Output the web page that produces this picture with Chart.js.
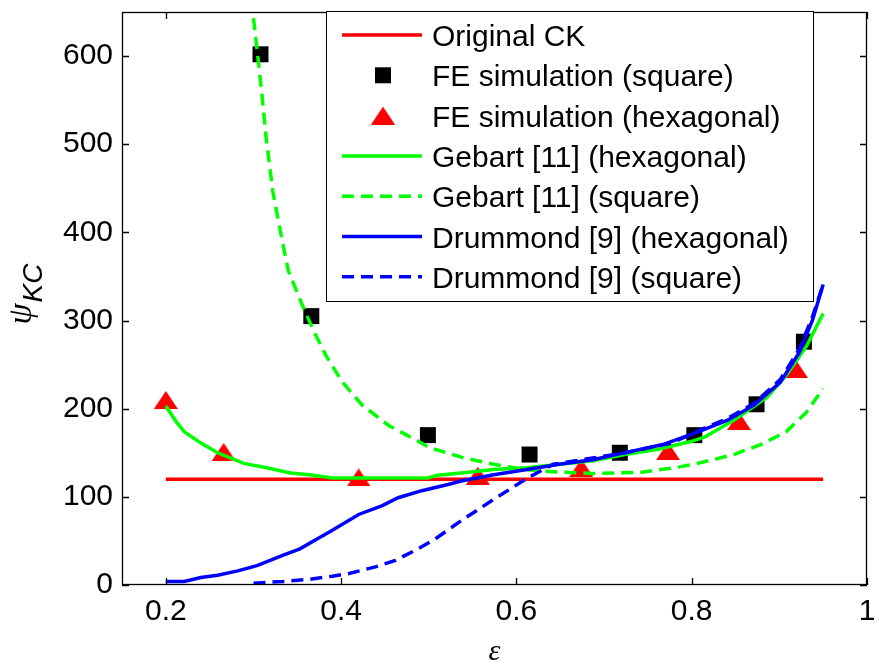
<!DOCTYPE html>
<html><head><meta charset="utf-8">
<script src="https://cdn.jsdelivr.net/npm/chart.js@4/dist/chart.umd.min.js"></script>
<style>html,body{margin:0;padding:0;background:#fff;}</style>
</head><body>
<canvas id="c" width="879" height="666"></canvas>
<script>
// ---- data ----
const X_TICKS = [0.2, 0.4, 0.6, 0.8, 1];
const Y_TICKS = [0, 100, 200, 300, 400, 500, 600];
const X_LABEL = 'ε';
const Y_LABEL_MAIN = 'ψ';
const Y_LABEL_SUB = 'KC';

const CK_X = [0.2, 0.95];
const CK_Y = [120, 120];

const FE_SQ_X = [0.308, 0.366, 0.499, 0.615, 0.718, 0.803, 0.874, 0.928];
const FE_SQ_Y = [602, 305, 170, 148, 150, 170, 205, 276];

const FE_HEX_X = [0.2, 0.266, 0.42, 0.556, 0.674, 0.773, 0.854, 0.919];
const FE_HEX_Y = [210, 151, 122, 124, 133, 152, 186, 245];

const GEB_HEX_X = [0.2, 0.212, 0.221, 0.24, 0.259, 0.289, 0.315, 0.342, 0.364, 0.39, 0.447, 0.499, 0.51, 0.537, 0.574, 0.612, 0.649, 0.687, 0.724, 0.762, 0.8, 0.815, 0.848, 0.886, 0.908, 0.931, 0.95];
const GEB_HEX_Y = [203, 185, 174, 161, 150, 138, 133, 127, 125, 121.5, 121.5, 121.5, 124.5, 127, 131, 133, 137, 141, 148, 154, 163, 168, 187, 213, 238, 271, 308];

const GEB_SQ_X = [0.3, 0.3047, 0.3097, 0.3145, 0.322, 0.3284, 0.3396, 0.3547, 0.3678, 0.3829, 0.4016, 0.4241, 0.4542, 0.488, 0.5, 0.537, 0.574, 0.608, 0.649, 0.687, 0.743, 0.78, 0.803, 0.848, 0.878, 0.908, 0.931, 0.95];
const GEB_SQ_Y = [643, 602, 556, 507, 447, 413, 357, 320, 290, 260, 230, 204, 181, 163, 156, 145, 137, 131, 128, 126.5, 128, 133, 137, 148, 159, 174, 196, 223];

const DRU_HEX_X = [0.2, 0.221, 0.24, 0.259, 0.282, 0.304, 0.334, 0.353, 0.372, 0.39, 0.42, 0.447, 0.465, 0.492, 0.522, 0.537, 0.574, 0.612, 0.649, 0.687, 0.728, 0.766, 0.803, 0.841, 0.871, 0.901, 0.923, 0.938, 0.95];
const DRU_HEX_Y = [4, 4, 8.5, 11, 16, 22, 34, 41, 52, 62, 80, 90, 99, 107, 114, 118, 125, 131, 137, 142, 151, 159, 172, 187, 204, 230, 264, 301, 341];

const DRU_SQ_X = [0.3, 0.334, 0.364, 0.39, 0.409, 0.439, 0.462, 0.484, 0.507, 0.537, 0.574, 0.612, 0.642, 0.687, 0.724, 0.777, 0.803, 0.841, 0.871, 0.901, 0.923, 0.938, 0.95];
const DRU_SQ_Y = [2, 4, 6.5, 10, 13, 20.5, 28, 39, 52, 73, 97, 121, 137, 144, 150, 161, 173, 189, 206, 233, 268, 305, 341];

const LABELS = ['Original CK', 'FE simulation (square)', 'FE simulation (hexagonal)',
  'Gebart [11] (hexagonal)', 'Gebart [11] (square)', 'Drummond [9] (hexagonal)', 'Drummond [9] (square)'];

// ---- helpers ----
const pts = (xs, ys) => xs.map((v, i) => ({x: v, y: ys[i]}));
function makeTri(w, h, color) {
  const c = document.createElement('canvas'); c.width = w; c.height = h;
  const g = c.getContext('2d'); g.fillStyle = color;
  g.beginPath(); g.moveTo(w / 2, 0); g.lineTo(w, h); g.lineTo(0, h); g.closePath(); g.fill();
  return c;
}
const triImg = makeTri(24, 18, '#ff0000');
const FONT = '"Liberation Sans", Arial, sans-serif';
const DASH = [12, 7];

const frame = {
  id: 'frame',
  afterDatasetsDraw(chart) {
    const {ctx, chartArea: a, scales: {x, y}} = chart;
    ctx.save();
    ctx.strokeStyle = '#000'; ctx.lineWidth = 1.3;
    ctx.strokeRect(a.left + 0.5, a.top + 0.5, a.right - a.left - 1, a.bottom - a.top - 1);
    const TL = 7;
    ctx.beginPath();
    X_TICKS.forEach(v => {
      const p = Math.round(x.getPixelForValue(v)) + 0.5;
      ctx.moveTo(p, a.bottom); ctx.lineTo(p, a.bottom - TL);
      ctx.moveTo(p, a.top); ctx.lineTo(p, a.top + TL);
    });
    Y_TICKS.forEach(v => {
      const p = Math.round(y.getPixelForValue(v)) + 0.5;
      ctx.moveTo(a.left, p); ctx.lineTo(a.left + TL, p);
      ctx.moveTo(a.right, p); ctx.lineTo(a.right - TL, p);
    });
    ctx.stroke();
    ctx.restore();
  }
};

const legendBox = {
  id: 'legendBox',
  afterDraw(chart) {
    const {ctx} = chart;
    const L = 326.5, T = 11.5, R = 813.5, B = 301.5;
    ctx.save();
    ctx.fillStyle = '#fff'; ctx.fillRect(L, T, R - L, B - T);
    ctx.strokeStyle = '#000'; ctx.lineWidth = 1; ctx.strokeRect(L, T, R - L, B - T);
    const x0 = 342, x1 = 422, xm = 383, xt = 432;
    chart.data.datasets.forEach((ds, i) => {
      const yc = 35 + i * 40.3;
      if (ds.showLine) {
        ctx.strokeStyle = ds.borderColor; ctx.lineWidth = ds.borderWidth;
        ctx.setLineDash(ds.borderDash || []);
        ctx.beginPath(); ctx.moveTo(x0, yc); ctx.lineTo(x1, yc); ctx.stroke();
        ctx.setLineDash([]);
      } else {
        ctx.fillStyle = ds.backgroundColor || '#000';
        Chart.helpers.drawPoint(ctx, {pointStyle: ds.pointStyle, radius: ds.pointRadius, borderWidth: 0, rotation: 0}, xm, yc);
      }
      ctx.fillStyle = '#000'; ctx.font = '30px ' + FONT;
      ctx.textAlign = 'left'; ctx.textBaseline = 'alphabetic';
      ctx.fillText(ds.label, xt, yc + 11);
    });
    ctx.restore();
  }
};

const axisLabels = {
  id: 'axisLabels',
  afterDraw(chart) {
    const {ctx, chartArea: a} = chart;
    ctx.save();
    ctx.fillStyle = '#000';
    ctx.font = 'italic 30px "Liberation Serif", serif';
    ctx.textAlign = 'center'; ctx.textBaseline = 'alphabetic';
    ctx.fillText(X_LABEL, (a.left + a.right) / 2, 660);
    ctx.rotate(-Math.PI / 2);
    ctx.textAlign = 'left';
    const fMain = 'italic 34px "Liberation Serif", serif';
    const fSub = 'italic 28px ' + FONT;
    ctx.font = fMain; const w1 = ctx.measureText(Y_LABEL_MAIN).width;
    ctx.font = fSub; const w2 = ctx.measureText(Y_LABEL_SUB).width;
    const cy = (a.top + a.bottom) / 2 - 4;
    const start = cy + (w1 + w2) / 2;
    ctx.font = fMain; ctx.fillText(Y_LABEL_MAIN, -start, 31);
    ctx.font = fSub; ctx.fillText(Y_LABEL_SUB, -start + w1 + 1, 42);
    ctx.restore();
  }
};

const zeroPad = s => { s.paddingTop = 0; s.paddingBottom = 0; s.paddingLeft = 0; s.paddingRight = 0; };

new Chart(document.getElementById('c'), {
  type: 'scatter',
  data: {
    datasets: [
      {label: LABELS[0], data: pts(CK_X, CK_Y), showLine: true, borderColor: '#ff0000', borderWidth: 3.5, pointRadius: 0, order: 7},
      {label: LABELS[1], data: pts(FE_SQ_X, FE_SQ_Y), showLine: false, pointStyle: 'rect', pointRadius: 11.3, backgroundColor: '#000', borderColor: '#000', borderWidth: 0, order: 6},
      {label: LABELS[2], data: pts(FE_HEX_X, FE_HEX_Y), showLine: false, pointStyle: triImg, pointRadius: 12, backgroundColor: '#ff0000', borderWidth: 0, order: 5},
      {label: LABELS[3], data: pts(GEB_HEX_X, GEB_HEX_Y), showLine: true, borderColor: '#00ff00', borderWidth: 3.5, pointRadius: 0, order: 4},
      {label: LABELS[4], data: pts(GEB_SQ_X, GEB_SQ_Y), showLine: true, borderColor: '#00ff00', borderWidth: 3.5, borderDash: DASH, pointRadius: 0, order: 3},
      {label: LABELS[5], data: pts(DRU_HEX_X, DRU_HEX_Y), showLine: true, borderColor: '#0000ff', borderWidth: 3.5, pointRadius: 0, order: 2},
      {label: LABELS[6], data: pts(DRU_SQ_X, DRU_SQ_Y), showLine: true, borderColor: '#0000ff', borderWidth: 3.5, borderDash: DASH, pointRadius: 0, order: 1}
    ]
  },
  options: {
    responsive: false, animation: false, devicePixelRatio: 1, events: [],
    layout: {padding: {left: 0, right: 3, top: 8, bottom: 0}},
    plugins: {legend: {display: false}, tooltip: {enabled: false}},
    scales: {
      x: {
        type: 'linear', min: 0.15, max: 1,
        grid: {display: false, drawTicks: false}, border: {display: false},
        afterBuildTicks: s => { s.ticks = X_TICKS.map(v => ({value: v})); },
        afterFit: s => { s.height = 81; zeroPad(s); },
        ticks: {font: {family: FONT, size: 30}, color: '#000', padding: 9, maxRotation: 0,
                callback: v => String(v)}
      },
      y: {
        type: 'linear', min: 0, max: 650,
        grid: {display: false, drawTicks: false}, border: {display: false},
        afterBuildTicks: s => { s.ticks = Y_TICKS.map(v => ({value: v})); },
        afterFit: s => { s.width = 122; zeroPad(s); },
        ticks: {font: {family: FONT, size: 30}, color: '#000', padding: 9,
                callback: v => String(v)}
      }
    }
  },
  plugins: [frame, axisLabels, legendBox]
});
</script>
</body></html>
